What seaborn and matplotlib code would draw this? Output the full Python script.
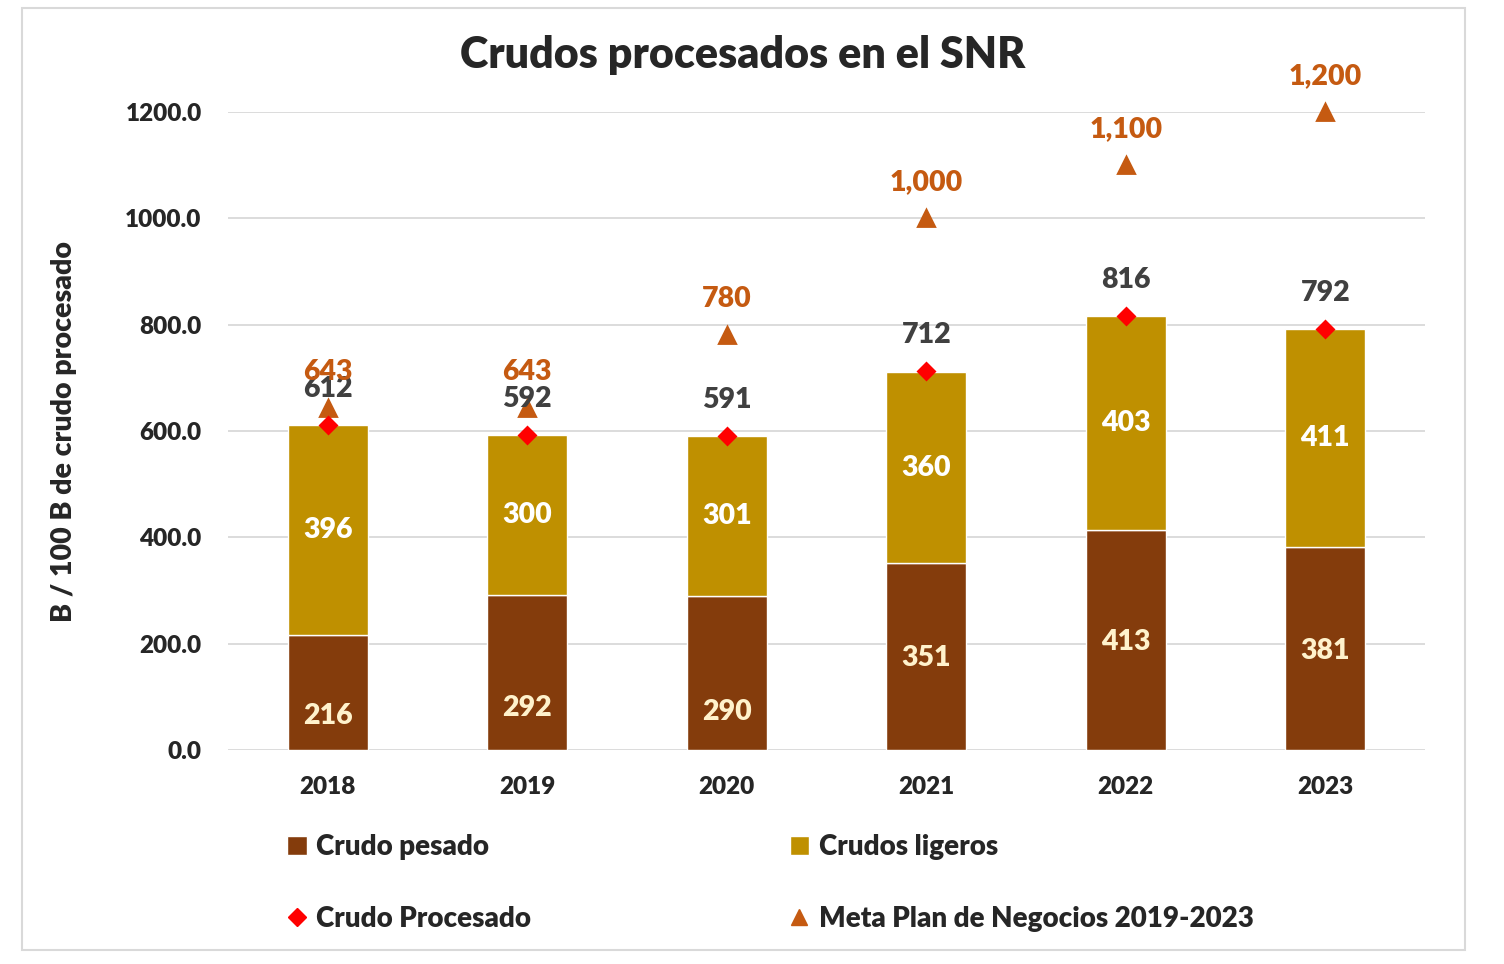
import matplotlib.pyplot as plt
import numpy as np
import pandas as pd
import seaborn as sns
from matplotlib.lines import Line2D
from matplotlib.patches import Patch, Rectangle

years = ["2018", "2019", "2020", "2021", "2022", "2023"]
crudo_pesado = [216, 292, 290, 351, 413, 381]
crudos_ligeros = [396, 300, 301, 360, 403, 411]
crudo_procesado = [612, 592, 591, 712, 816, 792]
meta_plan = [643, 643, 780, 1000, 1100, 1200]
# y position (data units) of the labels inside the lower segment
pesado_label_y = [64, 79, 71, 173, 203, 186]

C_PESADO = "#843C0C"
C_LIGEROS = "#BF9000"
C_META = "#C55A11"
C_TOTAL = "#404040"
W = "heavy"

sns.set_style("white")
plt.rcParams["font.family"] = ["Lato", "DejaVu Sans"]
plt.rcParams["font.weight"] = W

df = pd.DataFrame({
    "year": years,
    "pesado": crudo_pesado,
    "ligeros": crudos_ligeros,
    "total": crudo_procesado,
    "meta": meta_plan,
})

fig = plt.figure(figsize=(15.04, 9.64), dpi=100)
ax = fig.add_axes([0.1516, 0.222, 0.7959, 0.6618])

sns.barplot(data=df, x="year", y="pesado", color=C_PESADO, width=0.4,
            saturation=1, ax=ax, zorder=2)
sns.barplot(data=df, x="year", y="ligeros", bottom=df["pesado"], color=C_LIGEROS,
            width=0.4, saturation=1, ax=ax, zorder=2)
sns.pointplot(data=df, x="year", y="meta", color=C_META, marker="^",
              markersize=11, linestyle="none", errorbar=None, ax=ax)
sns.pointplot(data=df, x="year", y="total", color="red", marker="D",
              markersize=8, linestyle="none", errorbar=None, ax=ax)
for ln in ax.lines:
    ln.set_clip_on(False)
    ln.set_zorder(4)

LBL = 20.5
for i in range(len(years)):
    ax.text(i, pesado_label_y[i], str(crudo_pesado[i]), ha="center", va="center",
            color="#FFF2CC", fontsize=LBL, fontweight=W, zorder=5)
    ax.text(i, crudo_pesado[i] + crudos_ligeros[i] / 2, str(crudos_ligeros[i]),
            ha="center", va="center", color="white", fontsize=LBL,
            fontweight=W, zorder=5)
    ax.annotate(str(crudo_procesado[i]), (i, crudo_procesado[i]),
                xytext=(0, 26), textcoords="offset points", ha="center",
                va="center", color=C_TOTAL, fontsize=LBL, fontweight=W,
                zorder=5, annotation_clip=False)
    ax.annotate(f"{meta_plan[i]:,}", (i, meta_plan[i]), xytext=(0, 26),
                textcoords="offset points", ha="center", va="center",
                color=C_META, fontsize=LBL, fontweight=W, zorder=5,
                annotation_clip=False)

ax.set_ylim(0, 1200)
ax.set_xlim(-0.5, len(years) - 0.5)
ax.set_yticks(np.arange(0, 1201, 200))
ax.set_yticklabels([f"{v:.1f}" for v in np.arange(0, 1201, 200)])
ax.yaxis.grid(True, color="#D9D9D9", linewidth=1.3)
ax.set_axisbelow(True)
for s in ax.spines.values():
    s.set_visible(False)
ax.tick_params(axis="both", length=0, labelsize=17.5)
ax.tick_params(axis="y", pad=19)
ax.tick_params(axis="x", pad=19)
for lbl in ax.get_xticklabels() + ax.get_yticklabels():
    lbl.set_fontweight(W)
ax.set_xlabel("")
ax.set_ylabel("B / 100 B de crudo procesado", fontsize=20.5, fontweight=W)
ax.yaxis.set_label_coords(-0.126, 0.5)

fig.text(0.494, 0.943, "Crudos procesados en el SNR", ha="center", va="center",
         fontsize=31, fontweight=W)

handles = [
    Patch(facecolor=C_PESADO),
    Line2D([], [], marker="D", color="red", linestyle="none", markersize=9),
    Patch(facecolor=C_LIGEROS),
    Line2D([], [], marker="^", color=C_META, linestyle="none", markersize=11),
]
labels = ["Crudo pesado", "Crudo Procesado", "Crudos ligeros",
          "Meta Plan de Negocios 2019-2023"]
fig.legend(handles, labels, ncol=2, loc="upper left",
           bbox_to_anchor=(0.1835, 0.146), frameon=False, fontsize=20,
           handlelength=0.7, handleheight=0.7, handletextpad=0.35,
           labelspacing=1.65, columnspacing=9.3, borderaxespad=0)

fig.patches.append(Rectangle((22 / 1504, 1 - 950 / 964), 1443 / 1504, 942 / 964,
                             transform=fig.transFigure, fill=False,
                             edgecolor="#D9D9D9", linewidth=1.5))

fig.savefig("out.png", dpi=100)
